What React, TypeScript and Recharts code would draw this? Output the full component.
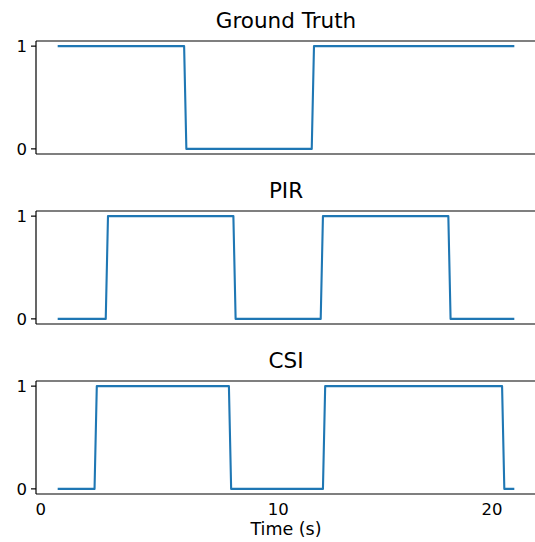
import React from "react";
import { LineChart, Line, XAxis, YAxis, ReferenceLine } from "recharts";

// ---- data (time in seconds, value 0/1) ----
const GT_T = [0.8, 6.4, 6.5, 12.1, 12.2, 21.1];
const GT_V = [1, 1, 0, 0, 1, 1];

const PIR_T = [0.8, 2.9, 3.0, 8.6, 8.7, 12.5, 12.6, 18.2, 18.3, 21.1];
const PIR_V = [0, 0, 1, 1, 0, 0, 1, 1, 0, 0];

const CSI_T = [0.8, 2.4, 2.5, 8.4, 8.5, 12.6, 12.7, 20.6, 20.7, 21.1];
const CSI_V = [0, 0, 1, 1, 0, 0, 1, 1, 0, 0];

const TITLES = ["Ground Truth", "PIR", "CSI"];
const X_TICK_POS = [0, 10.6, 20.15];
const X_TICK_LABELS = ["0", "10", "20"];
const Y_TICKS = [0, 1];
const X_LABEL = "Time (s)";

const X_DOMAIN: [number, number] = [-0.215, 22.115];
const Y_DOMAIN: [number, number] = [-0.05, 1.05];

const toRows = (t: number[], v: number[]) => t.map((tt, i) => ({ t: tt, v: v[i] }));

const SERIES = [toRows(GT_T, GT_V), toRows(PIR_T, PIR_V), toRows(CSI_T, CSI_V)];

const FONT = "DejaVu Sans";
const TICK_FS = 16.5;
const LABEL_FS = 17.5;
const TITLE_FS = 21.5;
const BLUE = "#1f77b4";
const SPINE = 1.2;

const PLOT_TOPS = [41, 211, 381];
const PLOT_H = 113;
const PLOT_LEFT = 36;
const CHART_W = 560;
const PLOT_RIGHT_MARGIN = 24; // plot area ends at x=536
const PAD = 10;

function Panel({ idx }: { idx: number }) {
  const last = idx === SERIES.length - 1;
  const xAxisH = last ? 34 : 0;
  const height = PAD + PLOT_H + xAxisH + PAD;
  return (
    <div style={{ position: "absolute", left: 0, top: PLOT_TOPS[idx] - PAD }}>
      <LineChart
        width={CHART_W}
        height={height}
        data={SERIES[idx]}
        margin={{ top: PAD, right: PLOT_RIGHT_MARGIN, bottom: PAD, left: 0 }}
      >
        <XAxis
          dataKey="t"
          type="number"
          domain={X_DOMAIN}
          allowDataOverflow
          ticks={X_TICK_POS}
          tickFormatter={(val: number) => X_TICK_LABELS[X_TICK_POS.indexOf(val)] ?? ""}
          tick={last ? { fill: "#000", fontSize: TICK_FS, fontFamily: FONT } : false}
          tickLine={false}
          tickSize={0}
          tickMargin={9}
          height={xAxisH}
          axisLine={false}
          interval={0}
        />
        <YAxis
          type="number"
          domain={Y_DOMAIN}
          allowDataOverflow
          ticks={Y_TICKS}
          width={PLOT_LEFT}
          tickSize={5}
          tickMargin={4}
          tick={{ fill: "#000", fontSize: TICK_FS, fontFamily: FONT }}
          tickLine={{ stroke: "#000", strokeWidth: SPINE }}
          axisLine={{ stroke: "#000", strokeWidth: SPINE }}
          interval={0}
        />
        <Line
          dataKey="v"
          type="linear"
          stroke={BLUE}
          strokeWidth={2.1}
          strokeLinecap="square"
          strokeLinejoin="round"
          dot={false}
          activeDot={false}
          isAnimationActive={false}
        />
        <ReferenceLine y={Y_DOMAIN[1]} stroke="#000" strokeWidth={SPINE} ifOverflow="visible" />
        <ReferenceLine y={Y_DOMAIN[0]} stroke="#000" strokeWidth={SPINE} ifOverflow="visible" />
        <ReferenceLine x={X_DOMAIN[1]} stroke="#000" strokeWidth={SPINE} ifOverflow="visible" />
      </LineChart>
    </div>
  );
}

export default function App() {
  const centerX = PLOT_LEFT + (CHART_W - PLOT_LEFT - PLOT_RIGHT_MARGIN) / 2;
  return (
    <div
      style={{
        position: "absolute",
        left: 0,
        top: 0,
        width: 535,
        height: 542,
        overflow: "hidden",
        background: "#fff",
        fontFamily: FONT,
      }}
    >
      {SERIES.map((_, i) => (
        <Panel key={i} idx={i} />
      ))}
      <svg
        width={535}
        height={542}
        style={{ position: "absolute", left: 0, top: 0, pointerEvents: "none" }}
      >
        {TITLES.map((t, i) => (
          <text
            key={t}
            x={centerX}
            y={PLOT_TOPS[i] - 12.7}
            textAnchor="middle"
            fontFamily={FONT}
            fontSize={TITLE_FS}
            fill="#000"
          >
            {t}
          </text>
        ))}
        <text
          x={centerX}
          y={535}
          textAnchor="middle"
          fontFamily={FONT}
          fontSize={LABEL_FS}
          fill="#000"
        >
          {X_LABEL}
        </text>
      </svg>
    </div>
  );
}
